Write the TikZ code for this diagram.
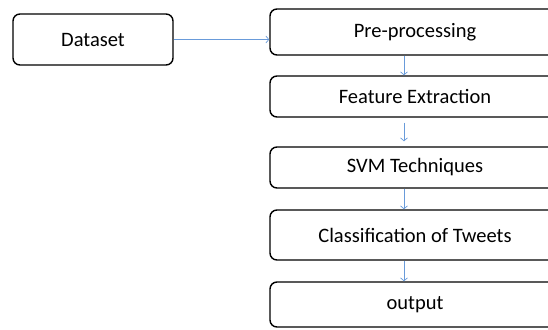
\documentclass[tikz,border=0pt]{standalone}
\usepackage{fontspec}
\setmainfont{Carlito}
\usepackage{tikz}
\usetikzlibrary{arrows.meta,positioning}

\tikzset{
  stage/.style={draw=black,line width=1.4pt,rounded corners=7pt,font=\fontsize{20.5}{24}\selectfont,inner sep=0pt},
  flow/.style={-{Straight Barb[length=3pt,width=7pt]},draw={rgb,255:red,105;green,155;blue,218},line width=0.7pt}
}

\begin{document}
\begin{tikzpicture}[x=1pt,y=-1pt]
          \useasboundingbox (0,0) rectangle (548,329);
          \clip (0,0) rectangle (548,329);
          \node[stage,minimum width=160pt,minimum height=51pt] (data) at (93,39.5) {Dataset};
          \node[stage,minimum width=290pt,minimum height=46pt] (pre)   at (415,32)    {Pre-processing};
          \node[stage,minimum width=290pt,minimum height=41pt] (feat)  at (415,96.5)  {Feature Extraction};
          \node[stage,minimum width=290pt,minimum height=41pt] (svm)   at (415,167.5) {SVM Techniques};
          \node[stage,minimum width=290pt,minimum height=50pt] (class) at (415,235)   {Classification of Tweets};
          \node[stage,minimum width=290pt,minimum height=45pt] (out)   at (415,304.5) {output};
          \draw[flow] (data.east) -- (data.east -| pre.west);
          \draw[flow] ([xshift=-11pt]pre.south) -- ([xshift=-11pt]feat.north);
          \draw[flow] ([xshift=-11pt,yshift=-5pt]feat.south) -- ([xshift=-11pt,yshift=5pt]svm.north);
          \draw[flow] ([xshift=-11pt]svm.south) -- ([xshift=-11pt]class.north);
          \draw[flow] ([xshift=-11pt]class.south) -- ([xshift=-11pt]out.north);
\end{tikzpicture}
\end{document}
